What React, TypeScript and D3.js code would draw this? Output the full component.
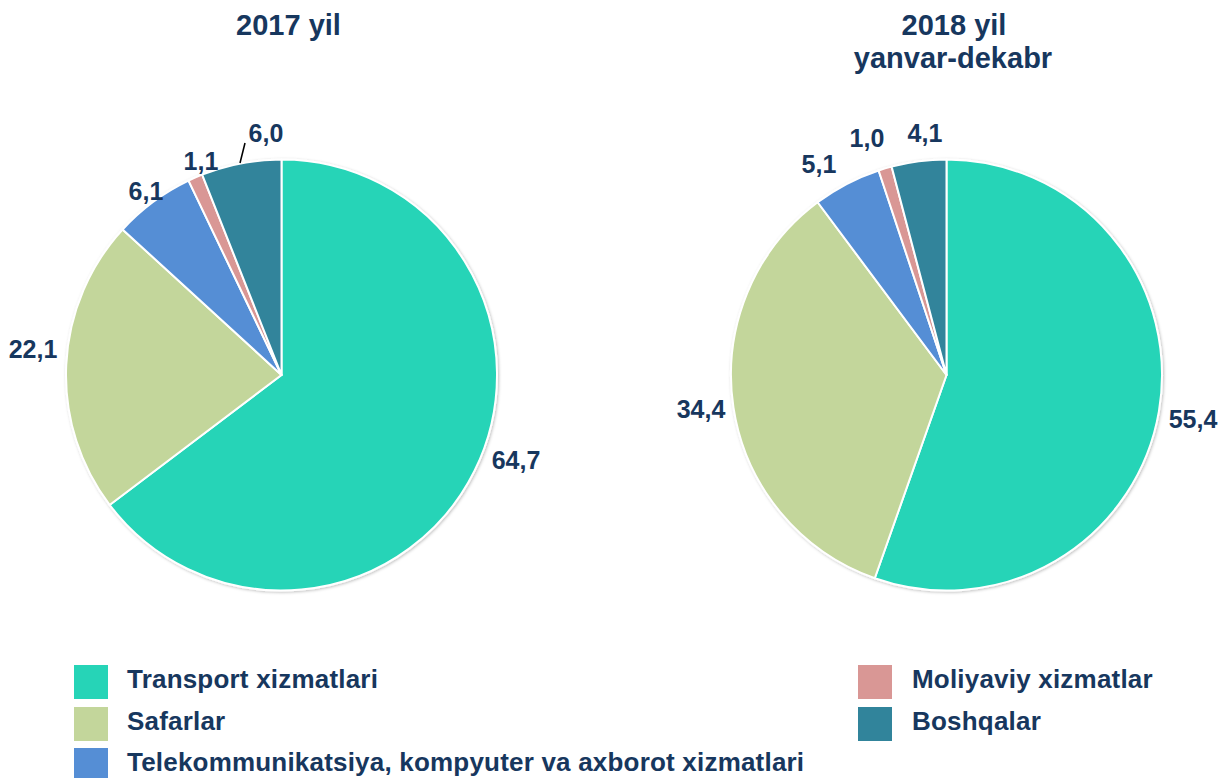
import React from "react";
import * as d3 from "d3";

const categories = [
  "Transport xizmatlari",
  "Safarlar",
  "Telekommunikatsiya, kompyuter va axborot xizmatlari",
  "Moliyaviy xizmatlar",
  "Boshqalar",
];
const colors = ["#26D4B7", "#C3D69B", "#558ED5", "#D99795", "#31849B"];
const values2017 = [64.7, 22.1, 6.1, 1.1, 6.0];
const values2018 = [55.4, 34.4, 5.1, 1.0, 4.1];
const labels2017 = ["64,7", "22,1", "6,1", "1,1", "6,0"];
const labels2018 = ["55,4", "34,4", "5,1", "1,0", "4,1"];

const W = 1221;
const H = 778;
const R = 215.5;
const TEXT = "#17375E";
const FONT = "'Liberation Sans', Arial, Helvetica, sans-serif";

type PieProps = {
  cx: number;
  cy: number;
  values: number[];
  labels: string[];
  labelXY: [number, number][];
  leader?: [number, number, number, number] | null;
};

function Pie({ cx, cy, values, labels, labelXY, leader }: PieProps) {
  const pie = d3
    .pie<number>()
    .sort(null)
    .value((d) => d)
    .startAngle(0)
    .endAngle(2 * Math.PI);
  const arcs = pie(values);
  const arc = d3.arc<d3.PieArcDatum<number>>().innerRadius(0).outerRadius(R);
  return (
    <g>
      <g transform={`translate(${cx},${cy})`} filter="url(#shadow)">
        {arcs.map((a, i) => (
          <path
            key={i}
            d={arc(a) || ""}
            fill={colors[i]}
            stroke="#ffffff"
            strokeWidth={2}
            strokeLinejoin="round"
          />
        ))}
      </g>
      {leader && (
        <line
          x1={leader[0]}
          y1={leader[1]}
          x2={leader[2]}
          y2={leader[3]}
          stroke="#000"
          strokeWidth={1.5}
        />
      )}
      {labels.map((l, i) => (
        <text
          key={i}
          x={labelXY[i][0]}
          y={labelXY[i][1]}
          textAnchor="middle"
          fontFamily={FONT}
          fontWeight="bold"
          fontSize={25}
          fill={TEXT}
        >
          {l}
        </text>
      ))}
    </g>
  );
}

export default function App() {
  const legendLeft = [0, 1, 2];
  const legendRight = [3, 4];
  const rowY = [665, 707, 748];
  return (
    <svg
      width={W}
      height={H}
      viewBox={`0 0 ${W} ${H}`}
      style={{ position: "absolute", left: 0, top: 0, background: "#fff" }}
    >
      <defs>
        <filter id="shadow" x="-10%" y="-10%" width="120%" height="120%">
          <feDropShadow dx="1" dy="1" stdDeviation="1.5" floodColor="#000" floodOpacity="0.25" />
        </filter>
      </defs>
      <rect x={0} y={0} width={W} height={H} fill="#fff" />
      <text
        x={288.5}
        y={35}
        textAnchor="middle"
        fontFamily={FONT}
        fontWeight="bold"
        fontSize={29}
        fill={TEXT}
      >
        2017 yil
      </text>
      <text
        x={954}
        y={35}
        textAnchor="middle"
        fontFamily={FONT}
        fontWeight="bold"
        fontSize={29}
        fill={TEXT}
      >
        2018 yil
      </text>
      <text
        x={953}
        y={68}
        textAnchor="middle"
        fontFamily={FONT}
        fontWeight="bold"
        fontSize={29}
        fill={TEXT}
      >
        yanvar-dekabr
      </text>

      <Pie
        cx={281.5}
        cy={375}
        values={values2017}
        labels={labels2017}
        labelXY={[
          [516, 469],
          [33, 358],
          [146, 200],
          [201, 170],
          [266, 142],
        ]}
        leader={[240, 163, 245, 143]}
      />
      <Pie
        cx={946.5}
        cy={375}
        values={values2018}
        labels={labels2018}
        labelXY={[
          [1193, 428],
          [701, 418],
          [819, 173],
          [867, 147],
          [925, 142],
        ]}
        leader={null}
      />

      {legendLeft.map((ci, k) => (
        <g key={ci}>
          <rect x={74} y={rowY[k]} width={34} height={34} fill={colors[ci]} />
          <text
            x={127}
            y={rowY[k] + 22.5}
            fontFamily={FONT}
            fontWeight="bold"
            fontSize={26}
            letterSpacing={0.2}
            fill={TEXT}
          >
            {categories[ci]}
          </text>
        </g>
      ))}
      {legendRight.map((ci, k) => (
        <g key={ci}>
          <rect x={858} y={rowY[k]} width={34} height={34} fill={colors[ci]} />
          <text
            x={912}
            y={rowY[k] + 22.5}
            fontFamily={FONT}
            fontWeight="bold"
            fontSize={26}
            letterSpacing={0.2}
            fill={TEXT}
          >
            {categories[ci]}
          </text>
        </g>
      ))}
    </svg>
  );
}
